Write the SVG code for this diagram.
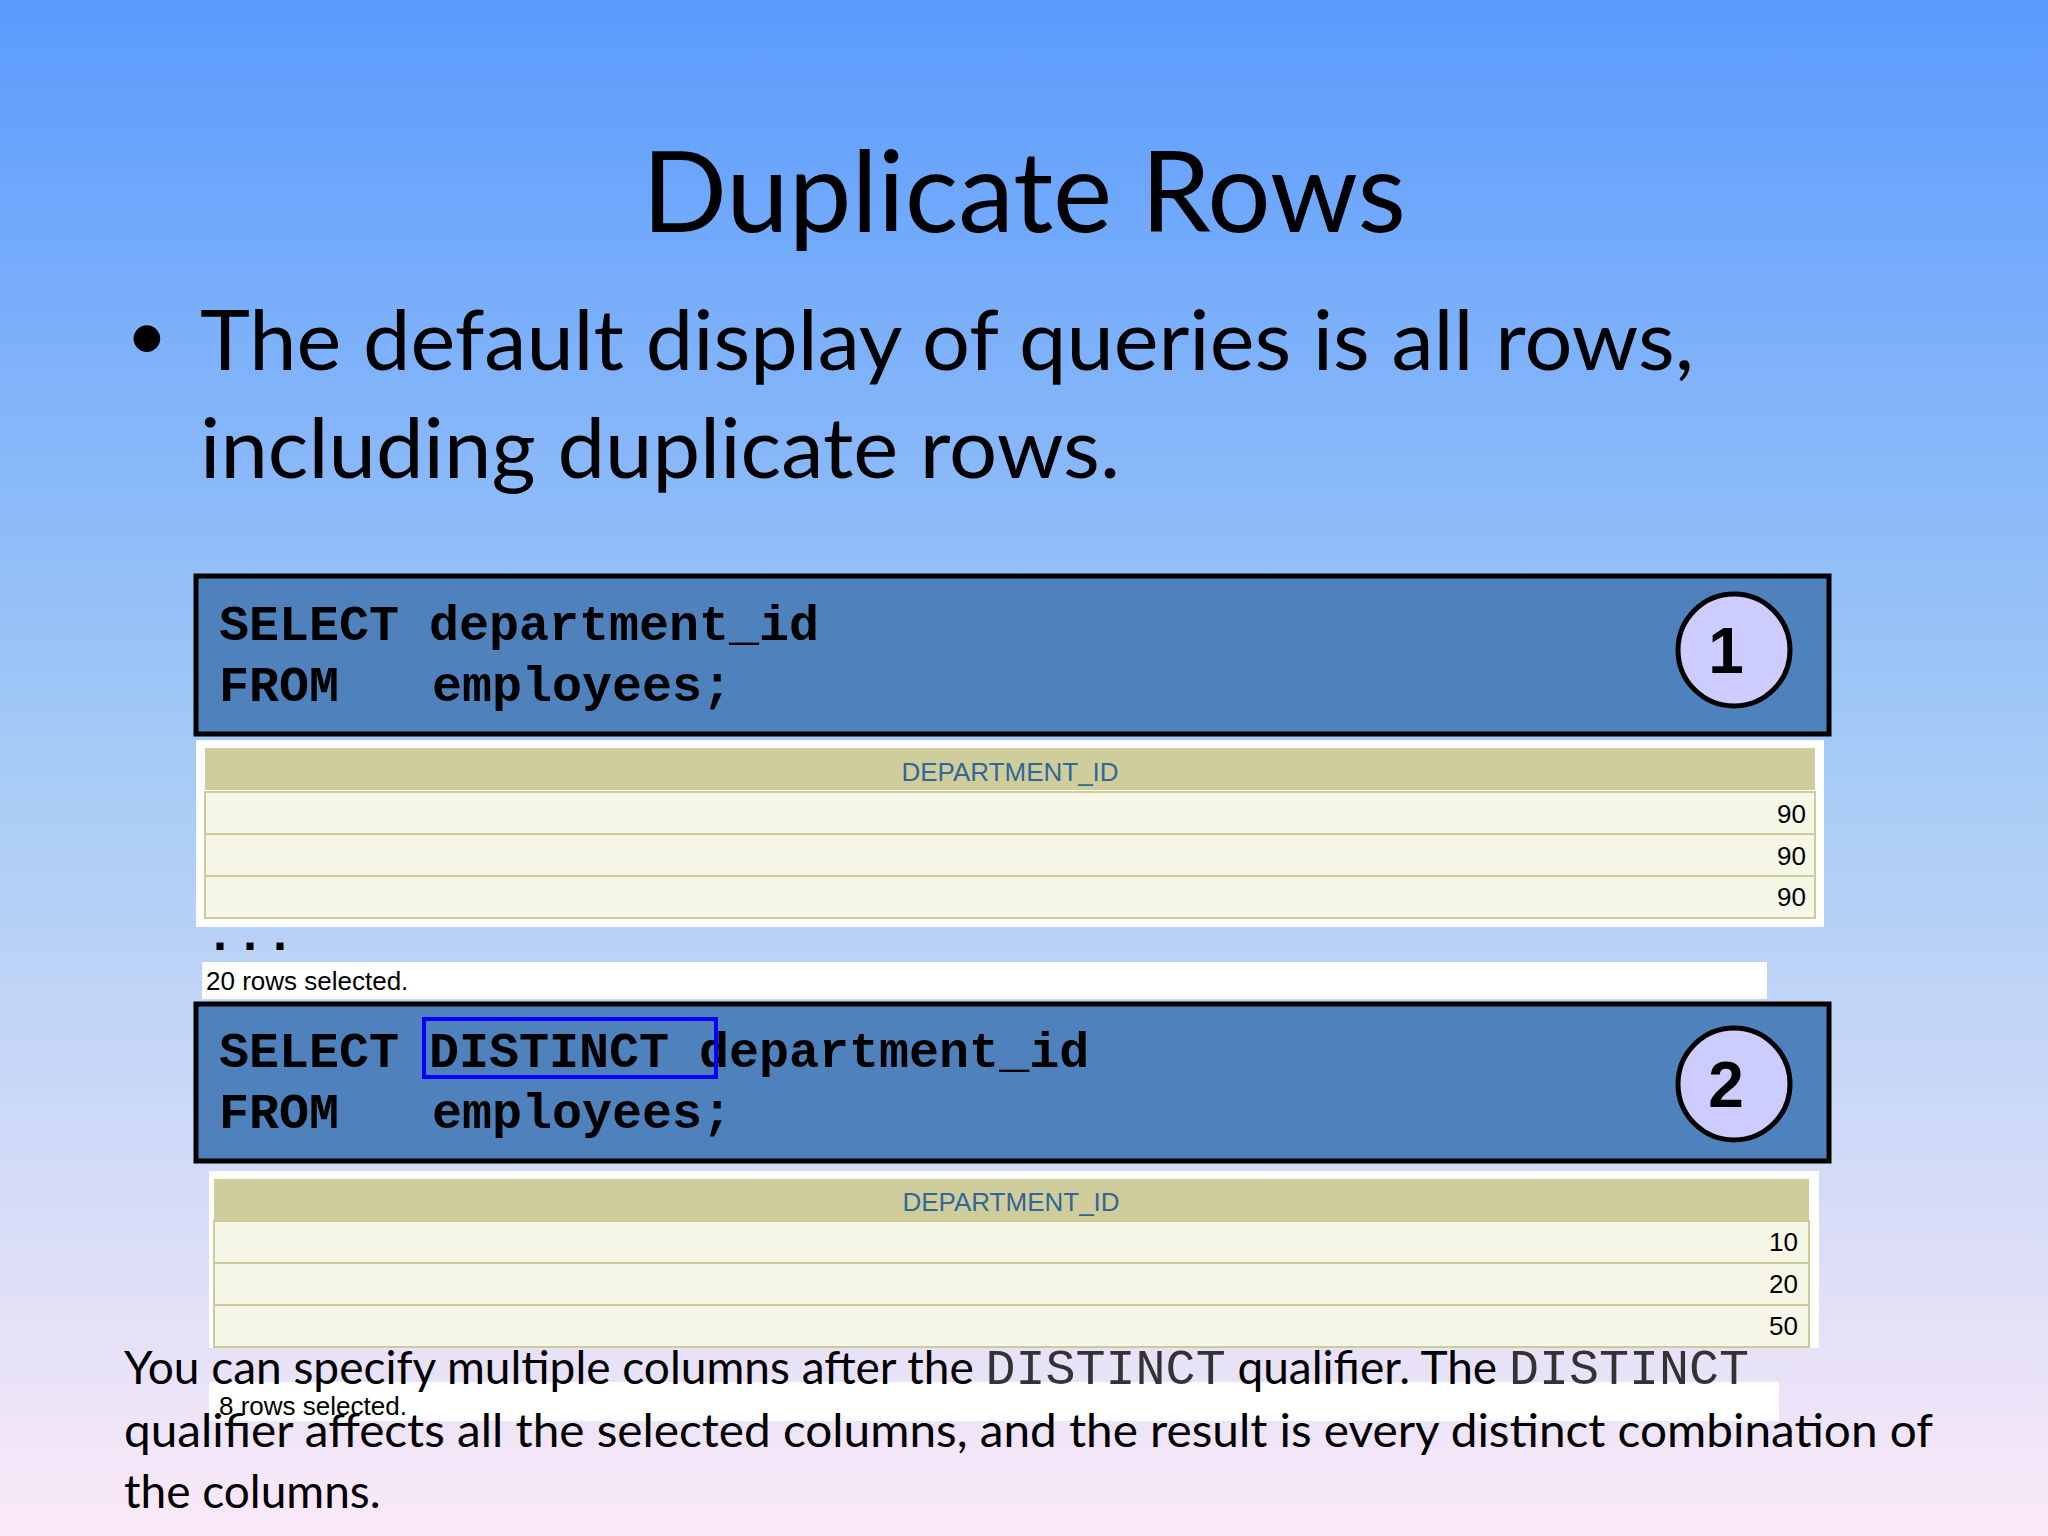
<svg xmlns="http://www.w3.org/2000/svg" width="2048" height="1536" viewBox="0 0 2048 1536">
<style>
.sans{font-family:Lato,"Open Sans","Liberation Sans",sans-serif;fill:#000}
.code{font-family:"Liberation Mono","Courier New",monospace;font-weight:bold;font-size:50px;fill:#000}
.box{fill:#4f81bd;stroke:#000;stroke-width:5}
.circ{fill:#ccccff;stroke:#000;stroke-width:5}
.num{font-family:"Liberation Sans",Arial,sans-serif;font-weight:bold;font-size:64px;text-anchor:middle}
.hdr{fill:#cfcd9c}
.row{fill:#f7f7e7;stroke:#cccc99;stroke-width:2}
.htxt{font-family:"Liberation Sans Narrow","Liberation Sans",sans-serif;font-size:26px;fill:#336699;text-anchor:middle}
.val{font-family:"Liberation Sans Narrow","Liberation Sans",sans-serif;font-size:26px;fill:#000;text-anchor:end}
.small{font-family:"Liberation Sans Narrow","Liberation Sans",sans-serif;font-size:26px;fill:#000}
.mono{font-family:"Liberation Mono","Courier New",monospace;fill:#333;font-size:50px}
</style>
<defs>
<linearGradient id="bg" x1="0" y1="0" x2="0" y2="1">
<stop offset="0" stop-color="#5b9bfd"/>
<stop offset="0.5" stop-color="#a6cbf6"/>
<stop offset="1" stop-color="#fbe9f8"/>
</linearGradient>
</defs>
<rect width="2048" height="1536" fill="url(#bg)"/>
<text class="sans" x="1024" y="232" font-size="112" text-anchor="middle">Duplicate Rows</text>
<text class="sans" x="126" y="360" font-size="72">•</text>
<text class="sans" x="200" y="370" font-size="84" textLength="1494" lengthAdjust="spacingAndGlyphs">The default display of queries is all rows,</text>
<text class="sans" x="200" y="478" font-size="84" textLength="920" lengthAdjust="spacingAndGlyphs">including duplicate rows.</text>

<g id="query1">
<rect class="box" x="196" y="576" width="1633" height="158"/>
<text class="code" x="219" y="640">SELECT department_id</text>
<text class="code" x="219" y="701">FROM</text>
<text class="code" x="432" y="701">employees;</text>
<circle class="circ" cx="1734" cy="650" r="56"/>
<text class="num" x="1726" y="673">1</text>
</g>

<g id="result1">
<rect x="196" y="740" width="1628" height="187" fill="#fff"/>
<rect class="hdr" x="205" y="748" width="1610" height="42"/>
<text class="htxt" x="1010" y="781">DEPARTMENT_ID</text>
<rect class="row" x="205" y="792" width="1610" height="42"/>
<rect class="row" x="205" y="834" width="1610" height="42"/>
<rect class="row" x="205" y="876" width="1610" height="42"/>
<text class="val" x="1806" y="823">90</text>
<text class="val" x="1806" y="865">90</text>
<text class="val" x="1806" y="906">90</text>
<text class="code" x="205" y="950" font-size="44">...</text>
<rect x="202" y="962" width="1565" height="37" fill="#fff"/>
<text class="small" x="206" y="990">20 rows selected.</text>
</g>

<g id="query2">
<rect class="box" x="196" y="1004" width="1633" height="157"/>
<text class="code" x="219" y="1067">SELECT DISTINCT department_id</text>
<text class="code" x="219" y="1128">FROM</text>
<text class="code" x="432" y="1128">employees;</text>
<rect x="424" y="1019" width="292" height="58" fill="none" stroke="#0000ff" stroke-width="4"/>
<circle class="circ" cx="1734" cy="1084" r="56"/>
<text class="num" x="1726" y="1107">2</text>
</g>

<g id="result2">
<rect x="209" y="1171" width="1610" height="177" fill="#fff"/>
<rect class="hdr" x="214" y="1179" width="1595" height="41"/>
<text class="htxt" x="1011" y="1211">DEPARTMENT_ID</text>
<rect class="row" x="214" y="1221" width="1595" height="42"/>
<rect class="row" x="214" y="1263" width="1595" height="42"/>
<rect class="row" x="214" y="1305" width="1595" height="42"/>
<text class="val" x="1798" y="1251">10</text>
<text class="val" x="1798" y="1293">20</text>
<text class="val" x="1798" y="1335">50</text>
<rect x="209" y="1382" width="1570" height="39" fill="#fff"/>
<text class="small" x="219" y="1415">8 rows selected.</text>
</g>

<g id="note">
<text class="sans" x="124" y="1384" font-size="46">You can specify multiple columns after the <tspan class="mono">DISTINCT</tspan> qualifier. The <tspan class="mono">DISTINCT</tspan></text>
<text class="sans" x="124" y="1447" font-size="46" textLength="1809" lengthAdjust="spacingAndGlyphs">qualifier affects all the selected columns, and the result is every distinct combination of</text>
<text class="sans" x="124" y="1508" font-size="46">the columns.</text>
</g>
</svg>
